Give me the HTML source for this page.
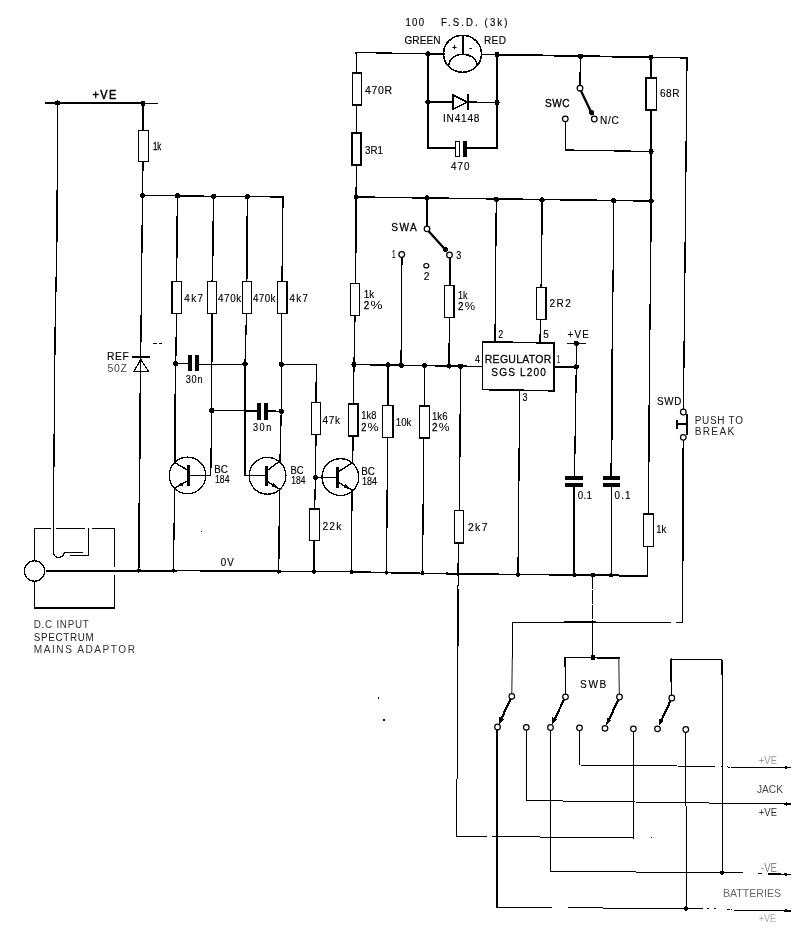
<!DOCTYPE html>
<html lang="en">
<head>
<meta charset="utf-8">
<title>Regulator circuit schematic</title>
<style>
html,body{margin:0;padding:0;background:#fff;}
body{width:800px;height:928px;overflow:hidden;}
svg{display:block;filter:grayscale(1);}
svg text{font-family:"Liberation Sans",sans-serif;}
</style>
</head>
<body>
<svg width="800" height="928" viewBox="0 0 800 928" fill="none" stroke="#000" stroke-linecap="square" stroke-linejoin="miter" shape-rendering="crispEdges">
<rect x="0" y="0" width="800" height="928" fill="#fff" stroke="none"/>
<polyline points="46,103 144,103.4" stroke-width="2.1"/>
<polyline points="144,103.4 157,103.6" stroke-width="1.3"/>
<circle cx="57.5" cy="103" r="2.6" fill="#000" stroke="none"/>
<circle cx="143" cy="103.5" r="2.6" fill="#000" stroke="none"/>
<text transform="translate(92.5,98.8) scale(0.92,1)" font-size="11.86" textLength="25.87" lengthAdjust="spacing" fill="#000" stroke="#000" stroke-width="0.5">+VE</text>
<polyline points="57.5,103 57,235 55.1,330 53.4,520 53.3,551" stroke-width="1.3"/>
<polyline points="143,103.5 143,130" stroke-width="1.6"/>
<rect x="138.3" y="130.3" width="10.5" height="31.5" fill="#fff" stroke-width="1.3"/>
<text transform="translate(153,150) scale(0.73,1)" font-size="10.71" textLength="11.32" lengthAdjust="spacing" fill="#000" stroke="#000" stroke-width="0.3">1k</text>
<polyline points="143,162 142.5,195.5" stroke-width="1.3"/>
<polyline points="142.5,195.5 283,197 282,281" stroke-width="1.3"/>
<circle cx="142.5" cy="195.5" r="2.6" fill="#000" stroke="none"/>
<circle cx="177.5" cy="195.87" r="2.6" fill="#000" stroke="none"/>
<circle cx="213.75" cy="196.26" r="2.6" fill="#000" stroke="none"/>
<circle cx="247.5" cy="196.62" r="2.6" fill="#000" stroke="none"/>
<polyline points="142.5,195.5 140.7,357 140.4,385" stroke-width="1.3"/>
<polyline points="140.4,385 138.7,570.5" stroke-width="1.6"/>
<polyline points="133,356.8 149,356.8" stroke-width="1.8"/>
<polygon points="140.8,359.5 148.5,371.3 133.8,371.3" fill="#fff" stroke-width="1.2"/>
<polyline points="140.7,357 140.5,372" stroke-width="1.3"/>
<text transform="translate(107,360.3) scale(0.92,1)" font-size="11.14" textLength="23.7" lengthAdjust="spacing" fill="#000" stroke="#000" stroke-width="0.15">REF</text>
<text transform="translate(107.5,372.3) scale(0.92,1)" font-size="11.43" textLength="21.2" lengthAdjust="spacing" fill="#444" stroke="none">50Z</text>
<polyline points="153,343.3 162,343.3" stroke-width="1" stroke-dasharray="4 1.5" stroke-linecap="butt"/>
<polyline points="177.5,195.5 176.5,281" stroke-width="1.5"/>
<rect x="172" y="281.5" width="9.2" height="31.7" fill="#fff" stroke-width="1.3"/>
<text transform="translate(184.2,301.8) scale(0.92,1)" font-size="10.71" textLength="20.43" lengthAdjust="spacing" fill="#000" stroke="#000" stroke-width="0.15">4k7</text>
<polyline points="176.5,313.2 175.75,363.75 175.3,395" stroke-width="1.3"/>
<polyline points="175.3,395 175,462.8" stroke-width="1.7"/>
<polyline points="213.75,196 212.3,281" stroke-width="1.6"/>
<rect x="207.3" y="281.5" width="9.4" height="31.7" fill="#fff" stroke-width="1.3"/>
<text transform="translate(218,301.8) scale(0.92,1)" font-size="10.71" textLength="25.33" lengthAdjust="spacing" fill="#000" stroke="#000" stroke-width="0.15">470k</text>
<polyline points="212,313.2 211.75,410.5 210.75,475.5" stroke-width="1.3"/>
<polyline points="247.5,196.5 246.7,281" stroke-width="1.6"/>
<rect x="242.2" y="281.5" width="9.5" height="31.7" fill="#fff" stroke-width="1.3"/>
<text transform="translate(253,301.8) scale(0.92,1)" font-size="10.71" textLength="24.46" lengthAdjust="spacing" fill="#000" stroke="#000" stroke-width="0.15">470k</text>
<polyline points="246.5,313.2 245,364 245,475.5" stroke-width="1.3"/>
<rect x="277.7" y="281.5" width="9.3" height="31.7" fill="#fff" stroke-width="1.3"/>
<text transform="translate(289.5,301.8) scale(0.92,1)" font-size="10.71" textLength="20.11" lengthAdjust="spacing" fill="#000" stroke="#000" stroke-width="0.15">4k7</text>
<polyline points="281.75,313.2 281.25,364.25 281.25,411.25 280,461" stroke-width="1.3"/>
<polyline points="175.75,363.75 188,363.75" stroke-width="1.3"/>
<rect x="188" y="355" width="4" height="16.3" fill="#000" stroke="none"/>
<rect x="195" y="355" width="4" height="16.3" fill="#000" stroke="none"/>
<polyline points="199,364 245,364" stroke-width="1"/>
<circle cx="175.75" cy="363.75" r="2.6" fill="#000" stroke="none"/>
<circle cx="245" cy="364" r="2.6" fill="#000" stroke="none"/>
<text transform="translate(185.8,383.3) scale(0.92,1)" font-size="10" textLength="18.15" lengthAdjust="spacing" fill="#000" stroke="#000" stroke-width="0.15">30n</text>
<polyline points="211.75,410.5 257,411" stroke-width="1.3"/>
<rect x="257" y="402.5" width="3.8" height="17" fill="#000" stroke="none"/>
<rect x="263.8" y="402.5" width="4.2" height="17" fill="#000" stroke="none"/>
<polyline points="268,411 281.25,411.25" stroke-width="1.3"/>
<circle cx="211.75" cy="410.5" r="2.6" fill="#000" stroke="none"/>
<circle cx="281.25" cy="411.25" r="2.6" fill="#000" stroke="none"/>
<text transform="translate(253,430.8) scale(0.92,1)" font-size="10" textLength="19.89" lengthAdjust="spacing" fill="#000" stroke="#000" stroke-width="0.15">30n</text>
<circle cx="187.5" cy="475.4" r="18.3" stroke-width="1.3"/>
<rect x="186.8" y="465.2" width="3" height="20.4" fill="#000" stroke="none"/>
<polyline points="187.3,469.9 175,462.8" stroke-width="1.4"/>
<polyline points="187.3,480.9 174.8,488" stroke-width="1.4"/>
<polygon points="175.23,487.75 181.25,482.15 183.13,485.45" fill="#000" stroke="none"/>
<polyline points="189,475.5 210.75,475.5" stroke-width="1.3"/>
<polyline points="174.8,488 173.3,570.5" stroke-width="1.3"/>
<text transform="translate(214.3,473.3) scale(0.92,1)" font-size="10.71" textLength="14.89" lengthAdjust="spacing" fill="#000" stroke="#000" stroke-width="0.15">BC</text>
<text transform="translate(215,483.3) scale(0.87,1)" font-size="10" textLength="16.69" lengthAdjust="spacing" fill="#000" stroke="#000" stroke-width="0.15">184</text>
<circle cx="267.5" cy="475.8" r="18.4" stroke-width="1.3"/>
<rect x="264.8" y="465.5" width="3" height="20.8" fill="#000" stroke="none"/>
<polyline points="267.3,470.3 280,461" stroke-width="1.4"/>
<polyline points="267.3,481.3 279.5,489.3" stroke-width="1.4"/>
<polygon points="279.08,489.03 271.35,486.23 273.43,483.05" fill="#000" stroke="none"/>
<polyline points="245,475.5 266,475.5" stroke-width="1.6"/>
<polyline points="279.5,489.3 278.75,571.75" stroke-width="1.3"/>
<text transform="translate(290.5,473.8) scale(0.89,1)" font-size="10.71" textLength="14.88" lengthAdjust="spacing" fill="#000" stroke="#000" stroke-width="0.15">BC</text>
<text transform="translate(291.3,483.8) scale(0.85,1)" font-size="10" textLength="16.69" lengthAdjust="spacing" fill="#000" stroke="#000" stroke-width="0.15">184</text>
<circle cx="340.4" cy="477.1" r="18.4" stroke-width="1.3"/>
<rect x="336.1" y="467" width="3" height="21" fill="#000" stroke="none"/>
<polyline points="338.6,471.6 352.5,462.5" stroke-width="1.4"/>
<polyline points="338.6,482.6 352,490" stroke-width="1.4"/>
<polygon points="351.56,489.76 343.64,487.55 345.48,484.23" fill="#000" stroke="none"/>
<polyline points="315.5,477.5 337,477.5" stroke-width="1.3"/>
<polyline points="352,490 351.5,572" stroke-width="1.3"/>
<polyline points="352.5,462.5 353,436.3" stroke-width="1.6"/>
<text transform="translate(361.3,475) scale(0.92,1)" font-size="10.71" textLength="14.89" lengthAdjust="spacing" fill="#000" stroke="#000" stroke-width="0.15">BC</text>
<text transform="translate(362,484.5) scale(0.9,1)" font-size="10" textLength="16.69" lengthAdjust="spacing" fill="#000" stroke="#000" stroke-width="0.15">184</text>
<polyline points="281.25,364.25 316.3,364.6 316,402.5" stroke-width="1.3"/>
<circle cx="281.25" cy="364.25" r="2.6" fill="#000" stroke="none"/>
<rect x="311.5" y="402.8" width="9.2" height="31.7" fill="#fff" stroke-width="1.3"/>
<text transform="translate(322.5,424) scale(0.92,1)" font-size="11" textLength="19.02" lengthAdjust="spacing" fill="#000" stroke="#000" stroke-width="0.15">47k</text>
<polyline points="316,434.5 315.5,477.5 314.6,508.8" stroke-width="1.3"/>
<circle cx="315.5" cy="477.5" r="2.6" fill="#000" stroke="none"/>
<rect x="309.7" y="509" width="9.7" height="31.7" fill="#fff" stroke-width="1.3"/>
<text transform="translate(322.5,529.8) scale(0.92,1)" font-size="11.14" textLength="20.43" lengthAdjust="spacing" fill="#000" stroke="#000" stroke-width="0.15">22k</text>
<polyline points="314.3,540.7 314.3,571.75" stroke-width="1.8"/>
<polyline points="356.3,52.5 356.5,72.5" stroke-width="1.6"/>
<rect x="352.7" y="72.8" width="8.9" height="32.2" fill="#fff" stroke-width="1.5"/>
<text transform="translate(365,94) scale(0.92,1)" font-size="11.43" textLength="29.35" lengthAdjust="spacing" fill="#000" stroke="#000" stroke-width="0.15">470R</text>
<polyline points="356.5,105 356.3,132.5" stroke-width="1.3"/>
<rect x="352" y="132.8" width="9.2" height="32.2" fill="#fff" stroke-width="1.5"/>
<text transform="translate(365,153.5) scale(0.89,1)" font-size="11" textLength="20.18" lengthAdjust="spacing" fill="#000" stroke="#000" stroke-width="0.15">3R1</text>
<polyline points="356.3,165 356.25,197 355.5,283" stroke-width="1.5"/>
<rect x="350.7" y="283.3" width="9.1" height="32.4" fill="#fff" stroke-width="1.3"/>
<text transform="translate(363.8,297.5) scale(0.92,1)" font-size="10.71" textLength="11.41" lengthAdjust="spacing" fill="#000" stroke="#000" stroke-width="0.15">1k</text>
<text transform="translate(363.8,308.8) scale(0.92,1)" font-size="10.71" fill="#000" stroke="#000" stroke-width="0.3">2</text>
<text x="370.48" y="308.8" font-size="10.71" textLength="12.02" lengthAdjust="spacingAndGlyphs" fill="#000" stroke="none">%</text>
<polyline points="355,315.7 354,364.5 353.3,403.8" stroke-width="1.3"/>
<rect x="348.5" y="404" width="9.3" height="32.2" fill="#fff" stroke-width="1.5"/>
<text transform="translate(361.3,418.8) scale(0.87,1)" font-size="10.71" textLength="17.28" lengthAdjust="spacing" fill="#000" stroke="#000" stroke-width="0.15">1k8</text>
<text transform="translate(361.3,430.8) scale(0.92,1)" font-size="10" fill="#000" stroke="#000" stroke-width="0.3">2</text>
<text x="367.62" y="430.8" font-size="10" textLength="11.18" lengthAdjust="spacingAndGlyphs" fill="#000" stroke="none">%</text>
<polyline points="356.3,52.5 428,53.8" stroke-width="1.3"/>
<polyline points="428,53.8 443.5,54" stroke-width="2.1"/>
<polyline points="481.5,54.4 497,54.6" stroke-width="1.1"/>
<polyline points="497,54.6 651,57.3" stroke-width="1.8"/>
<polyline points="651,57.3 687,58" stroke-width="1.3"/>
<circle cx="428" cy="54" r="2.6" fill="#000" stroke="none"/>
<circle cx="497" cy="54.6" r="2.6" fill="#000" stroke="none"/>
<circle cx="580.5" cy="56.3" r="2.6" fill="#000" stroke="none"/>
<circle cx="651" cy="57.3" r="2.6" fill="#000" stroke="none"/>
<ellipse cx="462.5" cy="53.8" rx="19" ry="18.5" stroke-width="1.6"/>
<polyline points="462.6,36 462.6,54.5" stroke-width="2.1" stroke-linecap="butt"/>
<path d="M449,64 C451,51 475,51 477,64.5" stroke-width="1.5"/>
<text x="454.5" y="50" font-size="7.5" text-anchor="middle" fill="#000" stroke="#000" stroke-width="0.5">+</text>
<text x="470.7" y="50.6" font-size="10" text-anchor="middle" fill="#000" stroke="#000" stroke-width="0.3">-</text>
<text transform="translate(405.5,26.3) scale(0.92,1)" font-size="10.43" textLength="20.11" lengthAdjust="spacing" fill="#000" stroke="#000" stroke-width="0.15">100</text>
<text transform="translate(441,26.3) scale(0.92,1)" font-size="10.43" textLength="72.28" lengthAdjust="spacing" fill="#000" stroke="#000" stroke-width="0.15">F.S.D. (3k)</text>
<text transform="translate(404.5,44) scale(0.92,1)" font-size="11" textLength="39.13" lengthAdjust="spacing" fill="#000" stroke="#000" stroke-width="0.15">GREEN</text>
<text transform="translate(484,44) scale(0.92,1)" font-size="11" textLength="23.91" lengthAdjust="spacing" fill="#000" stroke="#000" stroke-width="0.15">RED</text>
<polyline points="428,54 428,147.8 455.5,148" stroke-width="1.8"/>
<polyline points="497,54.6 497,147.8 467,148" stroke-width="1.5"/>
<polyline points="428,102 453,102" stroke-width="1.6"/>
<polyline points="467.5,102 497,102.5" stroke-width="1.3"/>
<circle cx="428" cy="102" r="2.6" fill="#000" stroke="none"/>
<circle cx="497" cy="102.5" r="2.6" fill="#000" stroke="none"/>
<polygon points="453,95 467,102 453,109.3" fill="#fff" stroke-width="1.4"/>
<polyline points="467.9,94.3 467.9,110" stroke-width="2" stroke-linecap="butt"/>
<text transform="translate(443,122) scale(0.92,1)" font-size="11" textLength="39.67" lengthAdjust="spacing" fill="#000" stroke="#000" stroke-width="0.15">IN4148</text>
<rect x="455.8" y="141.3" width="4" height="15.5" fill="#fff" stroke-width="1.2"/>
<rect x="463" y="141" width="4" height="16" fill="#000" stroke="none"/>
<text transform="translate(451,170) scale(0.92,1)" font-size="10.71" textLength="20.11" lengthAdjust="spacing" fill="#000" stroke="#000" stroke-width="0.15">470</text>
<polyline points="580.5,56.3 580,85" stroke-width="1.4"/>
<polyline points="580.8,90.5 592,114" stroke-width="2.3" shape-rendering="geometricPrecision"/>
<circle cx="591.6" cy="112.8" r="2.5" fill="#000" stroke="none"/>
<circle cx="580" cy="88.2" r="2.8" fill="#fff" stroke-width="1.25" shape-rendering="geometricPrecision"/>
<circle cx="594.3" cy="119" r="2.8" fill="#fff" stroke-width="1.25" shape-rendering="geometricPrecision"/>
<circle cx="565.3" cy="118.8" r="2.8" fill="#fff" stroke-width="1.25" shape-rendering="geometricPrecision"/>
<text transform="translate(545,107) scale(0.92,1)" font-size="11" textLength="26.63" lengthAdjust="spacing" fill="#000" stroke="#000" stroke-width="0.35">SWC</text>
<text transform="translate(600,124) scale(0.92,1)" font-size="11" textLength="20.43" lengthAdjust="spacing" fill="#000" stroke="#000" stroke-width="0.15">N/C</text>
<polyline points="565.3,122 565.2,150 651,151.5" stroke-width="1.3"/>
<circle cx="651" cy="151.5" r="2.6" fill="#000" stroke="none"/>
<polyline points="651,57.3 651,77.5" stroke-width="1.8"/>
<rect x="646.2" y="77.8" width="10.4" height="32.2" fill="#fff" stroke-width="1.5"/>
<text transform="translate(660,96.5) scale(0.92,1)" font-size="11" textLength="21.2" lengthAdjust="spacing" fill="#000" stroke="#000" stroke-width="0.15">68R</text>
<polyline points="651,110 651.1,222" stroke-width="1.9"/>
<polyline points="651.1,222 649.3,380 648.6,513.8" stroke-width="1.3"/>
<rect x="643.5" y="514" width="10.1" height="32.6" fill="#fff" stroke-width="1.3"/>
<text transform="translate(656.3,533.3) scale(0.88,1)" font-size="10.71" textLength="11.32" lengthAdjust="spacing" fill="#000" stroke="#000" stroke-width="0.15">1k</text>
<polyline points="647.6,546.6 647.5,575.8" stroke-width="1.3"/>
<polyline points="687,58 684.3,330 683.4,409" stroke-width="1.3"/>
<circle cx="683.3" cy="412" r="2.8" fill="#fff" stroke-width="1.25" shape-rendering="geometricPrecision"/>
<circle cx="683.3" cy="437.3" r="2.8" fill="#fff" stroke-width="1.25" shape-rendering="geometricPrecision"/>
<polyline points="687.2,414.5 687.2,434.5" stroke-width="1.8"/>
<polyline points="677,424.3 687,424.3" stroke-width="2" stroke-linecap="butt"/>
<polyline points="677,421.3 677,427.5" stroke-width="2"/>
<polyline points="683.3,440.3 682.5,622.3 676.5,622.6" stroke-width="1.5"/>
<text transform="translate(657,405) scale(0.92,1)" font-size="10.71" textLength="26.41" lengthAdjust="spacing" fill="#000" stroke="#000" stroke-width="0.15">SWD</text>
<text transform="translate(694.7,423.8) scale(0.92,1)" font-size="10.86" textLength="52.5" lengthAdjust="spacing" fill="#222" stroke="none">PUSH TO</text>
<text transform="translate(694.7,434.6) scale(0.92,1)" font-size="11" textLength="42.93" lengthAdjust="spacing" fill="#222" stroke="none">BREAK</text>
<polyline points="356.25,197 651,201" stroke-width="1.5"/>
<circle cx="356.25" cy="197" r="2.6" fill="#000" stroke="none"/>
<circle cx="427" cy="198" r="2.6" fill="#000" stroke="none"/>
<circle cx="496.3" cy="199.3" r="2.6" fill="#000" stroke="none"/>
<circle cx="542" cy="200" r="2.6" fill="#000" stroke="none"/>
<circle cx="613.75" cy="200.6" r="2.6" fill="#000" stroke="none"/>
<circle cx="651" cy="201" r="2.6" fill="#000" stroke="none"/>
<polyline points="427,198 427,226" stroke-width="1.5"/>
<polyline points="428.5,231 446,250.3" stroke-width="2.3" shape-rendering="geometricPrecision"/>
<circle cx="445.3" cy="249.3" r="2.5" fill="#000" stroke="none"/>
<circle cx="427" cy="228.8" r="2.8" fill="#fff" stroke-width="1.25" shape-rendering="geometricPrecision"/>
<circle cx="449.5" cy="255" r="2.8" fill="#fff" stroke-width="1.25" shape-rendering="geometricPrecision"/>
<circle cx="401.75" cy="254.5" r="2.8" fill="#fff" stroke-width="1.25" shape-rendering="geometricPrecision"/>
<ellipse cx="426.3" cy="265.7" rx="2.5" ry="2.2" fill="#fff" stroke-width="1.2" shape-rendering="geometricPrecision"/>
<text transform="translate(391.3,230.5) scale(0.92,1)" font-size="11" textLength="27.72" lengthAdjust="spacing" fill="#000" stroke="#000" stroke-width="0.3">SWA</text>
<text transform="translate(392,258.2) scale(0.6,1)" font-size="10.57" fill="#000" stroke="#000" stroke-width="0.15">1</text>
<text transform="translate(456.3,258.8) scale(0.84,1)" font-size="10.71" fill="#000" stroke="#000" stroke-width="0.15">3</text>
<text transform="translate(423.8,279.5) scale(0.96,1)" font-size="10.71" fill="#000" stroke="#000" stroke-width="0.15">2</text>
<polyline points="401.75,257.7 401.25,365" stroke-width="1.6"/>
<polyline points="450,258.2 450,285" stroke-width="2"/>
<rect x="444.7" y="285.3" width="9.4" height="32.1" fill="#fff" stroke-width="1.5"/>
<text transform="translate(458,298.8) scale(0.84,1)" font-size="10.71" textLength="11.32" lengthAdjust="spacing" fill="#000" stroke="#000" stroke-width="0.15">1k</text>
<text transform="translate(458,309.5) scale(0.92,1)" font-size="10.71" fill="#000" stroke="#000" stroke-width="0.3">2</text>
<text x="464.68" y="309.5" font-size="10.71" textLength="10.32" lengthAdjust="spacingAndGlyphs" fill="#000" stroke="none">%</text>
<polyline points="449.4,317.4 449.25,365.75" stroke-width="1.6"/>
<polyline points="354,364.5 482.5,366.5" stroke-width="1.5"/>
<circle cx="354" cy="364.5" r="2.6" fill="#000" stroke="none"/>
<circle cx="388" cy="365" r="2.6" fill="#000" stroke="none"/>
<circle cx="401.25" cy="365.2" r="2.6" fill="#000" stroke="none"/>
<circle cx="424.5" cy="365.6" r="2.6" fill="#000" stroke="none"/>
<circle cx="449.25" cy="366" r="2.6" fill="#000" stroke="none"/>
<circle cx="460.5" cy="366.2" r="2.6" fill="#000" stroke="none"/>
<polyline points="388,365 388,405" stroke-width="1.5"/>
<rect x="382.7" y="405.3" width="10.1" height="32.1" fill="#fff" stroke-width="1.5"/>
<text transform="translate(395.8,425.5) scale(0.9,1)" font-size="10.71" textLength="17.28" lengthAdjust="spacing" fill="#000" stroke="#000" stroke-width="0.15">10k</text>
<polyline points="387.6,437.4 386.5,572.3" stroke-width="1.3"/>
<polyline points="424.5,365.6 424.5,405.5" stroke-width="1.5"/>
<rect x="419.6" y="405.8" width="9.7" height="32.1" fill="#fff" stroke-width="1.5"/>
<text transform="translate(432,420) scale(0.9,1)" font-size="10.71" textLength="17.28" lengthAdjust="spacing" fill="#000" stroke="#000" stroke-width="0.15">1k6</text>
<text transform="translate(432,431.3) scale(0.92,1)" font-size="10.71" fill="#000" stroke="#000" stroke-width="0.3">2</text>
<text x="438.68" y="431.3" font-size="10.71" textLength="10.82" lengthAdjust="spacingAndGlyphs" fill="#000" stroke="none">%</text>
<polyline points="423.8,437.9 422.5,572.7" stroke-width="1.3"/>
<polyline points="460.5,366.2 459.5,510.5" stroke-width="1.3"/>
<rect x="454.5" y="510.8" width="9.1" height="32.3" fill="#fff" stroke-width="1.3"/>
<text transform="translate(468,531.3) scale(0.92,1)" font-size="11.43" textLength="21.2" lengthAdjust="spacing" fill="#000" stroke="#000" stroke-width="0.15">2k7</text>
<polyline points="458.3,543.1 458.1,575" stroke-width="1.3"/>
<polyline points="458.1,590 457.6,645" stroke-width="2"/>
<polyline points="458.1,575 457.5,655 456.8,836.3 487,836.4" stroke-width="1"/>
<polyline points="493,836.5 633.3,838" stroke-width="1"/>
<polyline points="633.3,838 633.3,732" stroke-width="1"/>
<polyline points="496.3,199.3 495,342" stroke-width="1.3"/>
<polyline points="542,200 541.3,287" stroke-width="1.6"/>
<rect x="536.5" y="287.3" width="9.6" height="32.1" fill="#fff" stroke-width="1.3"/>
<text transform="translate(549.5,307) scale(0.92,1)" font-size="11" textLength="23.15" lengthAdjust="spacing" fill="#000" stroke="#000" stroke-width="0.15">2R2</text>
<polyline points="540.5,319.4 540,342" stroke-width="1.3"/>
<polygon points="482.6,341.8 553.8,343 553.8,390.8 482.6,389.6" fill="#fff" stroke-width="1.6"/>
<text transform="translate(484.8,363.3) scale(0.92,1)" font-size="11.43" textLength="72.28" lengthAdjust="spacing" fill="#000" stroke="#000" stroke-width="0.25">REGULATOR</text>
<text transform="translate(491.3,375.5) scale(0.92,1)" font-size="11" textLength="59.24" lengthAdjust="spacing" fill="#000" stroke="#000" stroke-width="0.25">SGS L200</text>
<text transform="translate(498.3,337.5) scale(0.84,1)" font-size="10.71" fill="#000" stroke="#000" stroke-width="0.15">2</text>
<text transform="translate(543.3,337.5) scale(0.92,1)" font-size="10.71" fill="#000" stroke="#000" stroke-width="0.15">5</text>
<text transform="translate(475,362.5) scale(0.84,1)" font-size="10.71" fill="#000" stroke="#000" stroke-width="0.15">4</text>
<text transform="translate(557,362.5) scale(0.5,1)" font-size="10.71" fill="#000" stroke="#000" stroke-width="0.15">1</text>
<text transform="translate(522.5,401.3) scale(0.84,1)" font-size="10.71" fill="#000" stroke="#000" stroke-width="0.15">3</text>
<polyline points="553.8,367 576.3,367" stroke-width="1.5"/>
<circle cx="576.3" cy="367" r="2.6" fill="#000" stroke="none"/>
<circle cx="576.3" cy="343.3" r="2.6" fill="#000" stroke="none"/>
<polyline points="568,343.3 585,343.3" stroke-width="1.6"/>
<text transform="translate(567.5,337.5) scale(0.92,1)" font-size="10.71" textLength="23.15" lengthAdjust="spacing" fill="#000" stroke="#000" stroke-width="0.15">+VE</text>
<polyline points="576.3,343.3 576.3,367 574.5,476.3" stroke-width="1.3"/>
<polyline points="519.7,390.5 518,574.5" stroke-width="1.3"/>
<rect x="565" y="476.3" width="18.2" height="3.7" fill="#000" stroke="none"/>
<rect x="565" y="483.2" width="18.2" height="3.8" fill="#000" stroke="none"/>
<polyline points="574.4,487 574.25,574.7" stroke-width="1.8"/>
<text transform="translate(577.8,499) scale(0.92,1)" font-size="10.71" textLength="15.43" lengthAdjust="spacing" fill="#000" stroke="#000" stroke-width="0.15">0.1</text>
<polyline points="613.75,200.6 612.4,350" stroke-width="1.2"/>
<polyline points="612.4,350 611.3,476.5" stroke-width="1.8"/>
<rect x="603" y="476.4" width="17" height="3.8" fill="#000" stroke="none"/>
<rect x="603" y="483.3" width="17" height="4.1" fill="#000" stroke="none"/>
<polyline points="611.2,487.4 611.25,575" stroke-width="1.3"/>
<text transform="translate(614.6,499.3) scale(0.92,1)" font-size="10.71" textLength="17.28" lengthAdjust="spacing" fill="#000" stroke="#000" stroke-width="0.15">0.1</text>
<polyline points="45.5,571 140,571" stroke-width="2.6" stroke-linecap="butt"/>
<polyline points="140,570.6 176,570.6" stroke-width="2"/>
<polyline points="175,570.6 350,571.7 400,573 518,574.5 600,575.2 647.5,575.8" stroke-width="1.5"/>
<polyline points="447.5,573.6 477.5,574" stroke-width="2.2"/>
<polyline points="570,575 647,575.8" stroke-width="2"/>
<circle cx="138.7" cy="570.5" r="2.2" fill="#000" stroke="none"/>
<circle cx="173.5" cy="570.6" r="2.2" fill="#000" stroke="none"/>
<circle cx="278.7" cy="571.5" r="2.2" fill="#000" stroke="none"/>
<circle cx="314.3" cy="571.7" r="2.2" fill="#000" stroke="none"/>
<circle cx="351.5" cy="571.8" r="2.2" fill="#000" stroke="none"/>
<circle cx="386.5" cy="572.6" r="2.2" fill="#000" stroke="none"/>
<circle cx="422.5" cy="573.2" r="2.2" fill="#000" stroke="none"/>
<circle cx="518" cy="574.5" r="2.2" fill="#000" stroke="none"/>
<circle cx="574.25" cy="575" r="2.2" fill="#000" stroke="none"/>
<circle cx="593" cy="575.2" r="2.2" fill="#000" stroke="none"/>
<circle cx="611.25" cy="575.3" r="2.2" fill="#000" stroke="none"/>
<text transform="translate(220.8,566.3) scale(0.92,1)" font-size="10.71" textLength="14.13" lengthAdjust="spacing" fill="#000" stroke="#000" stroke-width="0.15">0V</text>
<circle cx="34.5" cy="571" r="10.2" stroke-width="1.2"/>
<polyline points="34.9,560.5 34.9,528.6 50.5,528.6" stroke-width="1"/>
<polyline points="56.8,528.6 84,528.6" stroke-width="1"/>
<polyline points="92.3,528.5 114.5,528.5 114.5,566.5" stroke-width="1.2"/>
<polyline points="114.5,575.5 114.5,607.7 34.8,607.7" stroke-width="1.7"/>
<polyline points="34.9,607 34.9,581.5" stroke-width="1"/>
<path d="M53.3,551 C53.3,559 62,559.5 64.5,552.5 L82.5,552.5" stroke-width="1.3"/>
<polyline points="88.4,528.8 88.4,555.8 70.5,555.8" stroke-width="1.2"/>
<text transform="translate(33.8,628) scale(0.92,1)" font-size="10.71" textLength="59.78" lengthAdjust="spacing" fill="#333" stroke="none">D.C INPUT</text>
<text transform="translate(33.8,640.5) scale(0.92,1)" font-size="10.71" textLength="65.22" lengthAdjust="spacing" fill="#222" stroke="none">SPECTRUM</text>
<text transform="translate(33.8,653) scale(0.92,1)" font-size="11" textLength="110" lengthAdjust="spacing" fill="#333" stroke="none">MAINS ADAPTOR</text>
<polyline points="593,575.2 592.8,622" stroke-width="1" stroke-dasharray="6 1.5"/>
<polyline points="592.8,622 592.6,657.5" stroke-width="1.1"/>
<polyline points="671,622.6 605,622.4" stroke-width="1"/>
<polyline points="605,622.4 565,622.2" stroke-width="1.7"/>
<polyline points="565,622.3 512.5,622.3 512.4,658" stroke-width="1"/>
<polyline points="512.3,658 511.8,693" stroke-width="0.9"/>
<circle cx="593" cy="657.6" r="2.6" fill="#000" stroke="none"/>
<polyline points="565.4,693.5 565,657.4 593,657.6" stroke-width="1.2"/>
<polyline points="593,657.6 618.8,658" stroke-width="1.7"/>
<polyline points="618.8,658 619.3,694" stroke-width="0.9"/>
<text transform="translate(580,688) scale(0.92,1)" font-size="11" textLength="28.59" lengthAdjust="spacing" fill="#000" stroke="#000" stroke-width="0.15">SWB</text>
<polyline points="671.6,695 670.8,659.3" stroke-width="1.6"/>
<polyline points="670.8,659.3 722,659.6" stroke-width="1"/>
<polyline points="722,659.6 722.2,872.5" stroke-width="1"/>
<polyline points="510.53,699.02 500.03,721.56" stroke-width="2.2" stroke-linecap="butt"/>
<polygon points="498.77,724.28 499.27,716.8 504.17,719.08" fill="#000" stroke="none"/>
<circle cx="511.8" cy="696.3" r="2.8" fill="#fff" stroke-width="1.25" shape-rendering="geometricPrecision"/>
<circle cx="497.5" cy="727" r="2.8" fill="#fff" stroke-width="1.25" shape-rendering="geometricPrecision"/>
<polyline points="564.18,699.5 553.13,722.11" stroke-width="2.2" stroke-linecap="butt"/>
<polygon points="551.82,724.8 552.46,717.33 557.32,719.7" fill="#000" stroke="none"/>
<circle cx="565.5" cy="696.8" r="2.8" fill="#fff" stroke-width="1.25" shape-rendering="geometricPrecision"/>
<circle cx="550.5" cy="727.5" r="2.8" fill="#fff" stroke-width="1.25" shape-rendering="geometricPrecision"/>
<polyline points="618.24,699.72 607.52,722.86" stroke-width="2.2" stroke-linecap="butt"/>
<polygon points="606.26,725.58 606.75,718.09 611.65,720.36" fill="#000" stroke="none"/>
<circle cx="619.5" cy="697" r="2.8" fill="#fff" stroke-width="1.25" shape-rendering="geometricPrecision"/>
<circle cx="605" cy="728.3" r="2.8" fill="#fff" stroke-width="1.25" shape-rendering="geometricPrecision"/>
<polyline points="670.54,700.72 660.03,723.36" stroke-width="2.2" stroke-linecap="butt"/>
<polygon points="658.76,726.08 659.26,718.59 664.16,720.87" fill="#000" stroke="none"/>
<circle cx="671.8" cy="698" r="2.8" fill="#fff" stroke-width="1.25" shape-rendering="geometricPrecision"/>
<circle cx="657.5" cy="728.8" r="2.8" fill="#fff" stroke-width="1.25" shape-rendering="geometricPrecision"/>
<circle cx="526.3" cy="727.3" r="2.8" fill="#fff" stroke-width="1.25" shape-rendering="geometricPrecision"/>
<circle cx="579.5" cy="727.8" r="2.8" fill="#fff" stroke-width="1.25" shape-rendering="geometricPrecision"/>
<circle cx="633.4" cy="728.8" r="2.8" fill="#fff" stroke-width="1.25" shape-rendering="geometricPrecision"/>
<circle cx="685.8" cy="729.5" r="2.8" fill="#fff" stroke-width="1.25" shape-rendering="geometricPrecision"/>
<polyline points="497.4,730 497,907.3" stroke-width="1.8"/>
<polyline points="497,907.3 551,907.6" stroke-width="1.2"/>
<polyline points="569,907.8 703,908.6" stroke-width="1"/>
<polyline points="707.5,908.7 708.5,908.7" stroke-width="1"/>
<polyline points="714.5,908.8 715.5,908.8" stroke-width="1"/>
<polyline points="728,909.6 732,909.7" stroke-width="1" stroke-dasharray="1.5 2"/>
<polyline points="735,910.2 784,910.6" stroke-width="1.3"/>
<polyline points="526.3,730.3 526.4,800.5 700,802.9 784,803.9" stroke-width="1"/>
<polyline points="550.5,730.5 550.6,871.3 743,872.9" stroke-width="1"/>
<polyline points="758,873.7 761,873.7" stroke-width="1" stroke-dasharray="1 1.5"/>
<polyline points="769,874 784,874.2" stroke-width="1.3"/>
<polyline points="579.5,731 579.6,765 715,766.4" stroke-width="1"/>
<polyline points="721,766.5 722,766.5" stroke-width="1"/>
<polyline points="728,767 733.5,767.1" stroke-width="1" stroke-dasharray="2 1.5"/>
<polyline points="735,767.2 783,767.5" stroke-width="1.2"/>
<polyline points="685.8,732.5 686.3,908.5" stroke-width="1"/>
<circle cx="686.3" cy="908.5" r="2.3" fill="#000" stroke="none"/>
<circle cx="722" cy="872.7" r="2.3" fill="#000" stroke="none"/>
<polygon points="782.6,767.6 787.4,765.4 787.4,769.8" fill="#000" stroke="none"/>
<polyline points="786.6,767.6 790.6,767.6" stroke-width="1.6" stroke-linecap="butt"/>
<polygon points="782.6,804 787.4,801.8 787.4,806.2" fill="#000" stroke="none"/>
<polyline points="786.6,804 790.6,804" stroke-width="1.6" stroke-linecap="butt"/>
<polygon points="782.6,874.3 787.4,872.1 787.4,876.5" fill="#000" stroke="none"/>
<polyline points="786.6,874.3 790.6,874.3" stroke-width="1.6" stroke-linecap="butt"/>
<polygon points="782.6,910.7 787.4,908.5 787.4,912.9" fill="#000" stroke="none"/>
<polyline points="786.6,910.7 790.6,910.7" stroke-width="1.6" stroke-linecap="butt"/>
<text transform="translate(758.8,764.4) scale(0.9,1)" font-size="10.57" textLength="20.28" lengthAdjust="spacing" fill="#999" stroke="none">+VE</text>
<text transform="translate(757,792.8) scale(0.91,1)" font-size="11.14" textLength="28.48" lengthAdjust="spacing" fill="#444" stroke="none">JACK</text>
<text transform="translate(758.8,815.6) scale(0.83,1)" font-size="11.43" textLength="21.92" lengthAdjust="spacing" fill="#333" stroke="none">+VE</text>
<text transform="translate(761,871.6) scale(0.81,1)" font-size="11.86" textLength="19.77" lengthAdjust="spacing" fill="#888" stroke="none">-VE</text>
<text transform="translate(723,896.5) scale(0.92,1)" font-size="11.43" textLength="63.04" lengthAdjust="spacing" fill="#666" stroke="none">BATTERIES</text>
<text transform="translate(758.8,922) scale(0.84,1)" font-size="10.71" textLength="20.55" lengthAdjust="spacing" fill="#aaa" stroke="none">+VE</text>
<circle cx="378.5" cy="698" r="0.7" fill="#000" stroke="none"/>
<circle cx="384" cy="720" r="0.7" fill="#000" stroke="none"/>
<circle cx="201.8" cy="531.3" r="0.6" fill="#000" stroke="none"/>
<circle cx="651.8" cy="838" r="0.6" fill="#000" stroke="none"/>
</svg>
</body>
</html>
